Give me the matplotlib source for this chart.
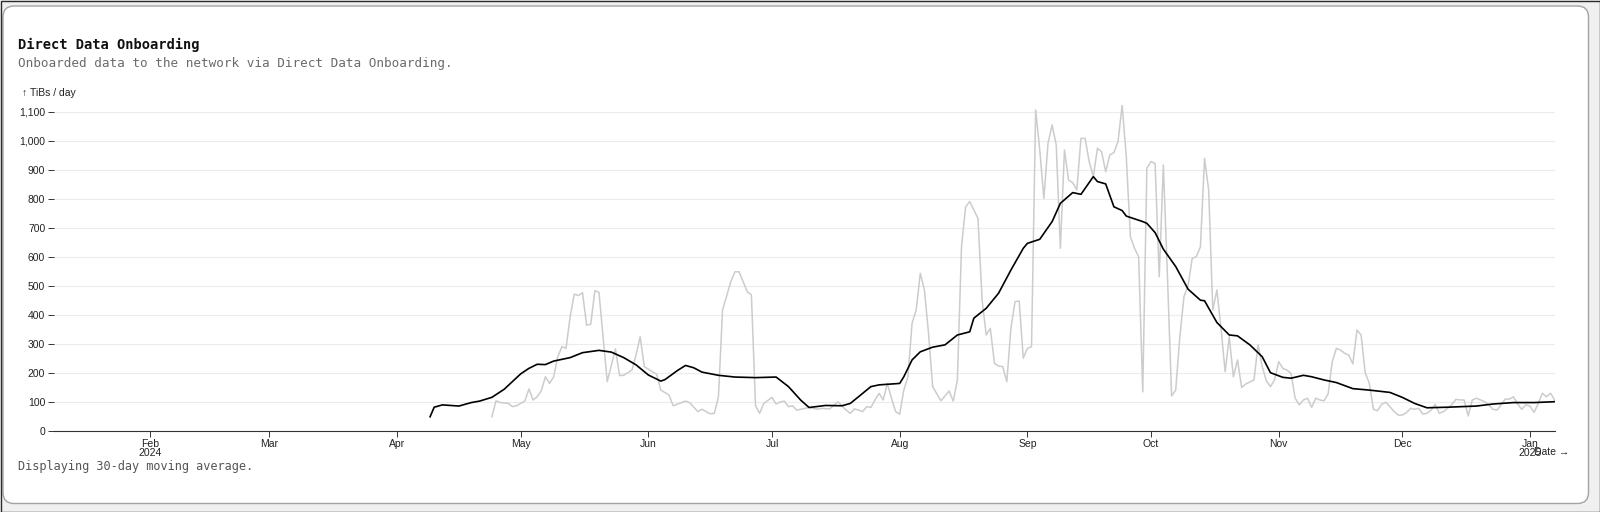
import pandas as pd
import matplotlib
matplotlib.use("Agg")
import matplotlib.pyplot as plt
from matplotlib.patches import FancyBboxPatch, Rectangle
from matplotlib.transforms import IdentityTransform
from matplotlib.ticker import FuncFormatter

# daily onboarded TiBs (raw, grey line)
raw_dates = [
    "2024-04-24", "2024-04-25", "2024-04-26", "2024-04-28", "2024-04-29", "2024-04-30",
    "2024-05-02", "2024-05-03", "2024-05-04", "2024-05-05", "2024-05-06", "2024-05-07",
    "2024-05-08", "2024-05-09", "2024-05-10", "2024-05-11", "2024-05-12", "2024-05-13",
    "2024-05-14", "2024-05-15", "2024-05-16", "2024-05-17", "2024-05-18", "2024-05-19",
    "2024-05-20", "2024-05-22", "2024-05-24", "2024-05-25", "2024-05-26", "2024-05-28",
    "2024-05-29", "2024-05-30", "2024-05-31", "2024-06-02", "2024-06-03", "2024-06-04",
    "2024-06-06", "2024-06-07", "2024-06-10", "2024-06-11", "2024-06-13", "2024-06-14",
    "2024-06-16", "2024-06-17", "2024-06-18", "2024-06-19", "2024-06-21", "2024-06-22",
    "2024-06-23", "2024-06-25", "2024-06-26", "2024-06-27", "2024-06-28", "2024-06-29",
    "2024-07-01", "2024-07-02", "2024-07-03", "2024-07-04", "2024-07-05", "2024-07-06",
    "2024-07-07", "2024-07-08", "2024-07-10", "2024-07-12", "2024-07-13", "2024-07-15",
    "2024-07-17", "2024-07-19", "2024-07-20", "2024-07-21", "2024-07-22", "2024-07-23",
    "2024-07-24", "2024-07-25", "2024-07-26", "2024-07-27", "2024-07-28", "2024-07-29",
    "2024-07-30", "2024-07-31", "2024-08-01", "2024-08-02", "2024-08-03", "2024-08-04",
    "2024-08-05", "2024-08-06", "2024-08-07", "2024-08-08", "2024-08-09", "2024-08-11",
    "2024-08-13", "2024-08-14", "2024-08-15", "2024-08-16", "2024-08-17", "2024-08-18",
    "2024-08-20", "2024-08-21", "2024-08-22", "2024-08-23", "2024-08-24", "2024-08-25",
    "2024-08-26", "2024-08-27", "2024-08-28", "2024-08-29", "2024-08-30", "2024-08-31",
    "2024-09-01", "2024-09-02", "2024-09-03", "2024-09-04", "2024-09-05", "2024-09-06",
    "2024-09-07", "2024-09-08", "2024-09-09", "2024-09-10", "2024-09-11", "2024-09-12",
    "2024-09-13", "2024-09-14", "2024-09-15", "2024-09-16", "2024-09-17", "2024-09-18",
    "2024-09-19", "2024-09-20", "2024-09-21", "2024-09-22", "2024-09-23", "2024-09-24",
    "2024-09-25", "2024-09-26", "2024-09-27", "2024-09-28", "2024-09-29", "2024-09-30",
    "2024-10-01", "2024-10-02", "2024-10-03", "2024-10-04", "2024-10-05", "2024-10-06",
    "2024-10-07", "2024-10-08", "2024-10-09", "2024-10-10", "2024-10-11", "2024-10-12",
    "2024-10-13", "2024-10-14", "2024-10-15", "2024-10-16", "2024-10-17", "2024-10-18",
    "2024-10-19", "2024-10-20", "2024-10-21", "2024-10-22", "2024-10-23", "2024-10-24",
    "2024-10-26", "2024-10-27", "2024-10-28", "2024-10-29", "2024-10-30", "2024-10-31",
    "2024-11-01", "2024-11-02", "2024-11-03", "2024-11-04", "2024-11-05", "2024-11-06",
    "2024-11-07", "2024-11-08", "2024-11-09", "2024-11-10", "2024-11-11", "2024-11-12",
    "2024-11-13", "2024-11-14", "2024-11-15", "2024-11-16", "2024-11-17", "2024-11-18",
    "2024-11-19", "2024-11-20", "2024-11-21", "2024-11-22", "2024-11-23", "2024-11-24",
    "2024-11-25", "2024-11-26", "2024-11-27", "2024-11-28", "2024-11-29", "2024-11-30",
    "2024-12-01", "2024-12-02", "2024-12-03", "2024-12-04", "2024-12-05", "2024-12-06",
    "2024-12-07", "2024-12-08", "2024-12-09", "2024-12-10", "2024-12-11", "2024-12-12",
    "2024-12-13", "2024-12-14", "2024-12-15", "2024-12-16", "2024-12-17", "2024-12-18",
    "2024-12-19", "2024-12-21", "2024-12-22", "2024-12-23", "2024-12-24", "2024-12-26",
    "2024-12-27", "2024-12-28", "2024-12-29", "2024-12-30", "2024-12-31", "2025-01-01",
    "2025-01-02", "2025-01-03", "2025-01-04", "2025-01-05", "2025-01-06", "2025-01-07",
]
raw_vals = [
    48, 103, 97, 94, 83, 86,
    102, 144, 106, 117, 138, 186,
    163, 186, 255, 290, 284, 393,
    471, 466, 476, 364, 367, 483,
    477, 169, 282, 190, 191, 209,
    261, 324, 221, 203, 195, 140,
    123, 86, 102, 97, 66, 74,
    58, 60, 117, 416, 514, 548,
    548, 479, 468, 86, 60, 94,
    115, 92, 99, 102, 83, 86,
    71, 74, 80, 74, 77, 75,
    100, 71, 60, 75, 71, 66,
    83, 80, 106, 129, 106, 163,
    112, 66, 57, 140, 186, 370,
    416, 543, 485, 336, 152, 103,
    137, 102, 175, 634, 772, 790,
    732, 451, 330, 353, 232, 223,
    221, 169, 353, 445, 447, 250,
    284, 290, 1106, 968, 801, 991,
    1054, 985, 629, 968, 864, 855,
    830, 1008, 1008, 928, 876, 974,
    962, 893, 951, 959, 997, 1123,
    945, 669, 629, 600, 134, 905,
    928, 921, 531, 916, 531, 120,
    140, 324, 462, 500, 594, 600,
    634, 939, 830, 416, 485, 353,
    203, 324, 186, 244, 149, 161,
    175, 296, 221, 172, 152, 175,
    238, 215, 209, 198, 112, 89,
    106, 112, 81, 112, 106, 103,
    127, 238, 284, 278, 267, 261,
    230, 347, 330, 200, 163, 74,
    69, 91, 98, 83, 66, 54,
    54, 62, 77, 74, 77, 57,
    60, 71, 91, 60, 66, 77,
    89, 108, 106, 106, 51, 106,
    112, 100, 89, 74, 71, 109,
    109, 117, 92, 74, 89, 85,
    63, 94, 129, 117, 129, 106,
]

# 30-day moving average (black line)
ma_dates = [
    "2024-04-09", "2024-04-10", "2024-04-12", "2024-04-16", "2024-04-19", "2024-04-21",
    "2024-04-24", "2024-04-27", "2024-05-01", "2024-05-03", "2024-05-05", "2024-05-07",
    "2024-05-09", "2024-05-13", "2024-05-16", "2024-05-20", "2024-05-23", "2024-05-26",
    "2024-05-29", "2024-06-01", "2024-06-04", "2024-06-05", "2024-06-08", "2024-06-10",
    "2024-06-12", "2024-06-14", "2024-06-18", "2024-06-22", "2024-06-27", "2024-07-02",
    "2024-07-05", "2024-07-08", "2024-07-10", "2024-07-14", "2024-07-18", "2024-07-20",
    "2024-07-22", "2024-07-25", "2024-07-27", "2024-08-01", "2024-08-02", "2024-08-04",
    "2024-08-06", "2024-08-09", "2024-08-12", "2024-08-15", "2024-08-18", "2024-08-19",
    "2024-08-22", "2024-08-25", "2024-08-28", "2024-08-31", "2024-09-01", "2024-09-04",
    "2024-09-07", "2024-09-09", "2024-09-12", "2024-09-14", "2024-09-17", "2024-09-18",
    "2024-09-20", "2024-09-22", "2024-09-24", "2024-09-25", "2024-09-29", "2024-09-30",
    "2024-10-02", "2024-10-04", "2024-10-07", "2024-10-10", "2024-10-13", "2024-10-14",
    "2024-10-17", "2024-10-20", "2024-10-22", "2024-10-25", "2024-10-28", "2024-10-30",
    "2024-11-02", "2024-11-04", "2024-11-07", "2024-11-09", "2024-11-12", "2024-11-15",
    "2024-11-19", "2024-11-23", "2024-11-28", "2024-12-01", "2024-12-04", "2024-12-07",
    "2024-12-12", "2024-12-19", "2024-12-23", "2024-12-28", "2025-01-02", "2025-01-07",
]
ma_vals = [
    48, 81, 89, 85, 97, 102,
    115, 143, 196, 215, 229, 228,
    240, 252, 269, 277, 271, 252,
    227, 192, 171, 176, 207, 225,
    217, 202, 191, 185, 183, 185,
    152, 105, 80, 87, 86, 94,
    117, 152, 158, 163, 186, 244,
    272, 288, 296, 330, 341, 388,
    422, 474, 554, 629, 646, 660,
    721, 784, 821, 815, 876, 859,
    851, 772, 759, 740, 721, 715,
    683, 626, 566, 488, 450, 448,
    373, 330, 327, 296, 255, 200,
    184, 181, 191, 186, 175, 166,
    145, 140, 132, 115, 94, 79,
    81, 85, 92, 97, 97, 100,
]

title = "Direct Data Onboarding"
subtitle = "Onboarded data to the network via Direct Data Onboarding."
footer = "Displaying 30-day moving average."
y_label = "↑ TiBs / day"
x_label = "Date →"

W, H = 1600, 512
MONO = "DejaVu Sans Mono"
SANS = "Liberation Sans"

fig = plt.figure(figsize=(W / 100, H / 100), dpi=100)
fig.patch.set_facecolor("#f0f0f0")

px = IdentityTransform()
fig.patches.append(FancyBboxPatch(
    (3, 8.5), 1585.5, 497.5,
    boxstyle="round,pad=0,rounding_size=11",
    transform=px, facecolor="white", edgecolor="#a3a3a3", lw=1.0, zorder=-10,
))
fig.patches.append(Rectangle(
    (0.5, 0.5), W - 1, H - 1, transform=px,
    facecolor="none", edgecolor="#2b2b2b", lw=1.0, zorder=10,
))

ax = fig.add_axes([54 / W, (H - 430.7) / H, 1500.7 / W, (430.7 - 105) / H])
ax.patch.set_alpha(0)

raw_x = pd.to_datetime(raw_dates)
ma_x = pd.to_datetime(ma_dates)

ax.plot(raw_x, raw_vals, color="#cccccc", lw=1.1, zorder=2)
ax.plot(ma_x, ma_vals, color="black", lw=1.2, zorder=3)

ax.set_xlim(pd.Timestamp("2024-01-08 17:00"), pd.Timestamp("2025-01-07"))
ax.set_ylim(0, max(raw_vals))

# y axis
ax.set_yticks(range(0, 1101, 100))
ax.yaxis.set_major_formatter(FuncFormatter(lambda v, p: f"{int(v):,}"))
ax.grid(axis="y", color="#ececec", lw=0.8, zorder=0)
ax.set_axisbelow(True)
ax.tick_params(axis="y", length=4.3, width=0.7, color="#333333", pad=2,
               labelsize=7.5, labelcolor="#222222")

# x axis
month_ticks = pd.date_range("2024-02-01", "2025-01-01", freq="MS")
month_labels = []
for i, d in enumerate(month_ticks):
    if i == 0 or d.month == 1:
        month_labels.append(f"{d:%b}\n{d:%Y}")
    else:
        month_labels.append(f"{d:%b}")
ax.set_xticks(month_ticks)
ax.set_xticklabels(month_labels, linespacing=0.85)
ax.tick_params(axis="x", length=4.3, width=0.7, color="#333333", pad=2,
               labelsize=7.5, labelcolor="#222222")

for lbl in ax.get_xticklabels() + ax.get_yticklabels():
    lbl.set_fontfamily(SANS)

for side in ["top", "right", "left"]:
    ax.spines[side].set_visible(False)
ax.spines["bottom"].set_color("#333333")
ax.spines["bottom"].set_linewidth(0.8)

# texts
fig.text(17.5 / W, 1 - 45 / H, title, fontfamily=MONO, fontsize=9.9,
         fontweight="bold", color="#111111", va="center", ha="left")
fig.text(17.5 / W, 1 - 64 / H, subtitle, fontfamily=MONO, fontsize=9.1,
         color="#6b6b6b", va="center", ha="left")
fig.text(21.5 / W, 1 - 92.5 / H, y_label, fontfamily=[SANS, "DejaVu Sans"],
         fontsize=7.5, color="#222222", va="center", ha="left")
fig.text(1569 / W, 1 - 452.3 / H, x_label, fontfamily=[SANS, "DejaVu Sans"],
         fontsize=7.5, color="#222222", va="center", ha="right")
fig.text(17.5 / W, 1 - 466.3 / H, footer, fontfamily=MONO, fontsize=8.6,
         color="#555555", va="center", ha="left")

fig.savefig("out.png", dpi=100, facecolor=fig.get_facecolor())
